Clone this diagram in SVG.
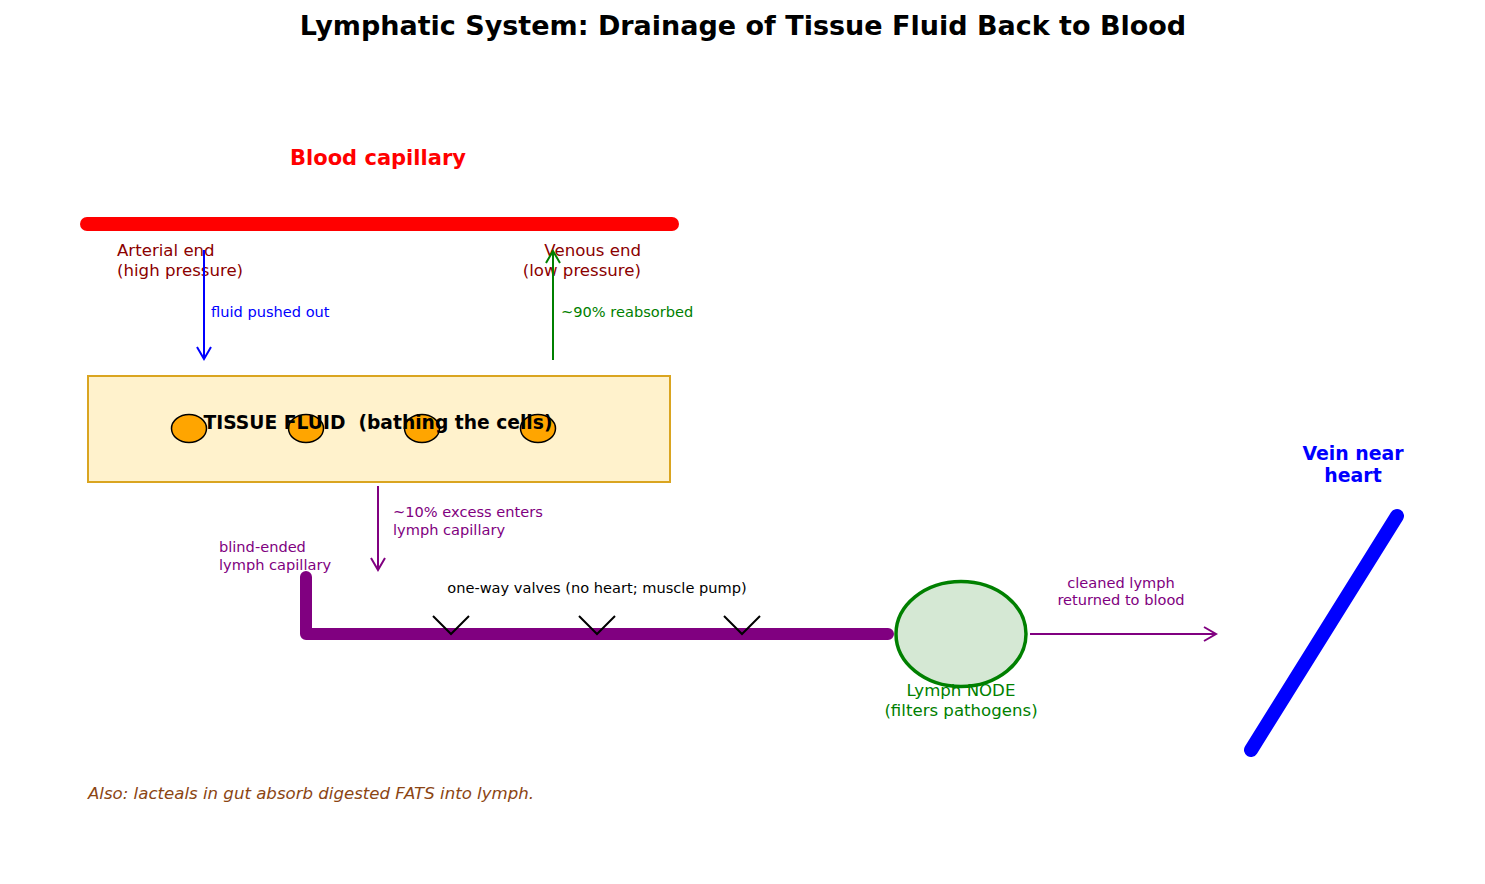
<svg xmlns="http://www.w3.org/2000/svg" width="1485" height="884" viewBox="0 0 1485 884">
<style>
text{font-family:"DejaVu Sans","Liberation Sans",sans-serif}
.t14{font-size:14.6px}
.t16{font-size:16.6px}
.b{font-weight:bold}
.pur{fill:#800080}
</style>
<defs>
<marker id="ab" markerWidth="16" markerHeight="16" refX="14" refY="8" orient="auto" markerUnits="userSpaceOnUse"><path d="M2,1 L14,8 L2,15" fill="none" stroke="#0000FF" stroke-width="2"/></marker>
<marker id="ag" markerWidth="16" markerHeight="16" refX="14" refY="8" orient="auto" markerUnits="userSpaceOnUse"><path d="M2,1 L14,8 L2,15" fill="none" stroke="#008000" stroke-width="2"/></marker>
<marker id="ap" markerWidth="16" markerHeight="16" refX="14" refY="8" orient="auto" markerUnits="userSpaceOnUse"><path d="M2,1 L14,8 L2,15" fill="none" stroke="#800080" stroke-width="2"/></marker>
</defs>
<rect width="1485" height="884" fill="#fff"/>
<text x="743" y="35" text-anchor="middle" class="b" font-size="27">Lymphatic System: Drainage of Tissue Fluid Back to Blood</text>

<g id="blood-capillary">
<line x1="87" y1="224" x2="672" y2="224" stroke="#FF0000" stroke-width="14" stroke-linecap="round"/>
<text x="378" y="165" text-anchor="middle" class="b" font-size="21" fill="#FF0000">Blood capillary</text>
<text x="117" y="256" class="t16" fill="#8B0000">Arterial end</text>
<text x="117" y="276" class="t16" fill="#8B0000">(high pressure)</text>
<text x="641" y="256" text-anchor="end" class="t16" fill="#8B0000">Venous end</text>
<text x="641" y="276" text-anchor="end" class="t16" fill="#8B0000">(low pressure)</text>
</g>

<g id="tissue-fluid">
<rect x="88" y="376" width="582" height="106" fill="#FFF2CC" stroke="#DAA520" stroke-width="2"/>
<g fill="#FFA500" stroke="#000" stroke-width="1.5">
<ellipse cx="189" cy="428.5" rx="17.5" ry="14"/>
<ellipse cx="306" cy="428.5" rx="17.5" ry="14"/>
<ellipse cx="422" cy="428.5" rx="17.5" ry="14"/>
<ellipse cx="538" cy="428.5" rx="17.5" ry="14"/>
</g>
<text x="378" y="429" text-anchor="middle" class="b" font-size="18.7" xml:space="preserve">TISSUE FLUID  (bathing the cells)</text>
</g>

<g id="lymph-vessel">
<path d="M306,577 L306,634 L888,634" fill="none" stroke="#800080" stroke-width="12" stroke-linecap="round" stroke-linejoin="round"/>
<g fill="none" stroke="#000" stroke-width="2">
<path d="M433,616 L451,634 L469,616"/>
<path d="M579,616 L597,634 L615,616"/>
<path d="M724,616 L742,634 L760,616"/>
</g>
<text x="219" y="552" class="t14 pur">blind-ended</text>
<text x="219" y="570" class="t14 pur">lymph capillary</text>
<text x="597" y="593" text-anchor="middle" class="t14">one-way valves (no heart; muscle pump)</text>
</g>

<g id="lymph-node">
<ellipse cx="961" cy="634" rx="65" ry="52.5" fill="#D5E8D4" stroke="#008000" stroke-width="3.5"/>
<text x="961" y="696" text-anchor="middle" class="t16" fill="#008000">Lymph NODE</text>
<text x="961" y="716" text-anchor="middle" class="t16" fill="#008000">(filters pathogens)</text>
</g>

<g id="vein">
<line x1="1251" y1="750" x2="1397" y2="516" stroke="#0000FF" stroke-width="14" stroke-linecap="round"/>
<text x="1353" y="460" text-anchor="middle" class="b" font-size="18.9" fill="#0000FF">Vein near</text>
<text x="1353" y="482" text-anchor="middle" class="b" font-size="18.9" fill="#0000FF">heart</text>
</g>

<g id="connectors">
<line x1="204" y1="250" x2="204" y2="359" stroke="#0000FF" stroke-width="2" marker-end="url(#ab)"/>
<text x="211" y="317" class="t14" fill="#0000FF">fluid pushed out</text>
<line x1="553" y1="360" x2="553" y2="251" stroke="#008000" stroke-width="2" marker-end="url(#ag)"/>
<text x="561" y="317" class="t14" fill="#008000">~90% reabsorbed</text>
<line x1="378" y1="486" x2="378" y2="570" stroke="#800080" stroke-width="2" marker-end="url(#ap)"/>
<text x="393" y="517" class="t14 pur">~10% excess enters</text>
<text x="393" y="535" class="t14 pur">lymph capillary</text>
<line x1="1030" y1="634" x2="1216" y2="634" stroke="#800080" stroke-width="2" marker-end="url(#ap)"/>
<text x="1121" y="588" text-anchor="middle" class="t14 pur">cleaned lymph</text>
<text x="1121" y="605" text-anchor="middle" class="t14 pur">returned to blood</text>
</g>

<text x="88" y="799" class="t16" font-style="italic" fill="#8B4513">Also: lacteals in gut absorb digested FATS into lymph.</text>
</svg>
